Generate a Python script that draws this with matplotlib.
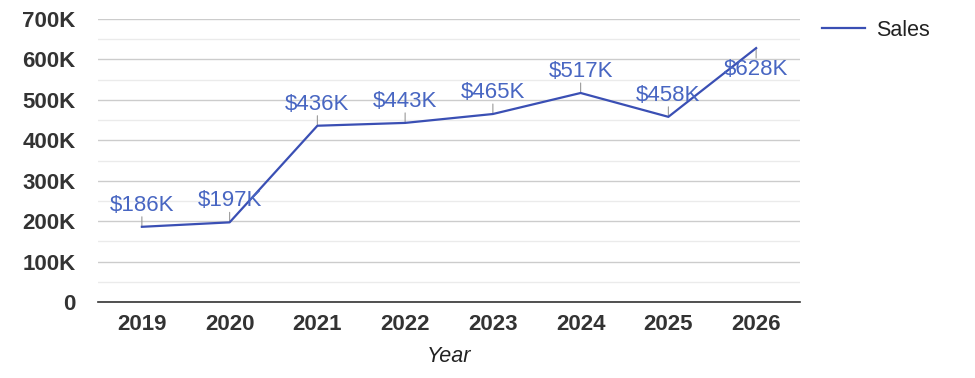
import matplotlib
matplotlib.use("Agg")
import matplotlib.pyplot as plt
from matplotlib.ticker import MultipleLocator, FuncFormatter

years = ["2019", "2020", "2021", "2022", "2023", "2024", "2025", "2026"]
sales = [186000, 197000, 436000, 443000, 465000, 517000, 458000, 628000]
labels = ["$186K", "$197K", "$436K", "$443K", "$465K", "$517K", "$458K", "$628K"]
series_name = "Sales"

W, H = 975, 378
fig = plt.figure(figsize=(W / 100, H / 100), dpi=100)
L, R, B, T = 98, 800, 302, 19
ax = fig.add_axes([L / W, 1 - B / H, (R - L) / W, (B - T) / H])

font = "Liberation Sans"
line_color = "#3a4fb4"
label_color = "#4866c2"

x = list(range(len(years)))
ax.plot(x, sales, color=line_color, lw=1.6, label=series_name, zorder=3)

for i, (v, lab) in enumerate(zip(sales, labels)):
    down = (i == len(years) - 1)
    sign = -1 if down else 1
    ax.annotate("", xy=(i, v), xytext=(0, sign * 10), textcoords="offset pixels",
                arrowprops=dict(arrowstyle="-", color="#999999", lw=0.8,
                                shrinkA=0, shrinkB=0), zorder=2)
    ax.annotate(lab, xy=(i, v), xytext=(0, sign * 11), textcoords="offset pixels",
                ha="center", va="top" if down else "bottom",
                fontsize=16, color=label_color, fontfamily=font, zorder=4)

ax.set_xlim(-0.5, len(years) - 0.5)
ax.set_ylim(0, 700000)
ax.set_xticks(x)
ax.set_xticklabels(years)
ax.yaxis.set_major_locator(MultipleLocator(100000))
ax.yaxis.set_minor_locator(MultipleLocator(50000))
ax.yaxis.set_major_formatter(FuncFormatter(lambda v, p: "0" if v == 0 else f"{int(v/1000)}K"))

ax.grid(axis="y", which="major", color="#cccccc", lw=1)
ax.grid(axis="y", which="minor", color="#ebebeb", lw=1)
ax.set_axisbelow(True)
for s in ["top", "right", "left"]:
    ax.spines[s].set_visible(False)
ax.spines["bottom"].set_color("#333333")
ax.spines["bottom"].set_linewidth(1.2)
ax.tick_params(axis="both", which="both", length=0)
ax.tick_params(axis="y", pad=16)
ax.tick_params(axis="x", pad=9)
for t in ax.get_xticklabels() + ax.get_yticklabels():
    t.set_fontfamily(font)
    t.set_fontsize(16)
    t.set_fontweight("bold")
    t.set_color("#333333")

fig.text((L + R) / 2 / W, 1 - 356 / H, "Year", ha="center", va="center",
         fontsize=15.5, fontstyle="italic", fontfamily=font, color="#222222")

leg = ax.legend(loc="upper left", bbox_to_anchor=(822 / W, 1 - 20 / H),
                bbox_transform=fig.transFigure, frameon=False, borderpad=0,
                borderaxespad=0, handlelength=2.0, handletextpad=0.5,
                prop={"family": font, "size": 15.5})
for t in leg.get_texts():
    t.set_color("#222222")

fig.savefig("out.png", dpi=100, facecolor="white")
